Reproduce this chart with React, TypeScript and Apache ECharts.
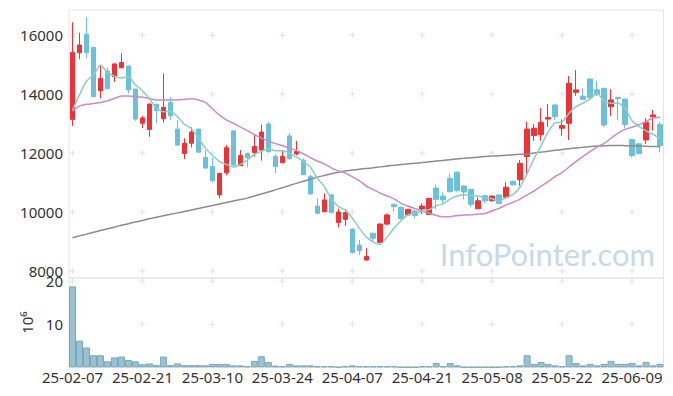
import React, { useEffect, useRef } from "react";
import * as echarts from "echarts";

const dates = [
  "25-02-07",
  "25-02-10", "25-02-11", "25-02-12", "25-02-13", "25-02-14",
  "25-02-17", "25-02-18", "25-02-19", "25-02-20", "25-02-21",
  "25-02-24", "25-02-25", "25-02-26", "25-02-27", "25-02-28",
  "25-03-04", "25-03-05", "25-03-06", "25-03-07",
  "25-03-10", "25-03-11", "25-03-12", "25-03-13", "25-03-14",
  "25-03-17", "25-03-18", "25-03-19", "25-03-20", "25-03-21",
  "25-03-24", "25-03-25", "25-03-26", "25-03-27", "25-03-28",
  "25-03-31", "25-04-01", "25-04-02", "25-04-03", "25-04-04",
  "25-04-07", "25-04-08", "25-04-09", "25-04-10", "25-04-11",
  "25-04-14", "25-04-15", "25-04-16", "25-04-17", "25-04-18",
  "25-04-21", "25-04-22", "25-04-23", "25-04-24", "25-04-25",
  "25-04-28", "25-04-29", "25-04-30", "25-05-02", "25-05-07",
  "25-05-08", "25-05-09",
  "25-05-12", "25-05-13", "25-05-14", "25-05-15", "25-05-16",
  "25-05-19", "25-05-20", "25-05-21", "25-05-22", "25-05-23",
  "25-05-26", "25-05-27", "25-05-28", "25-05-29", "25-05-30",
  "25-06-02", "25-06-04", "25-06-05",
  "25-06-09", "25-06-10", "25-06-11", "25-06-12", "25-06-13",
];

const opens = [
  13140, 15400, 16030, 15580, 14110, 14780, 14590, 14890, 14950, 14170,
  13010, 12800, 13650, 13160, 13720, 12810, 11980, 12330, 12810, 11850,
  11540, 10580, 11330, 12750, 11570, 11990, 12010, 12100, 12980, 11880,
  11670, 12580, 11970, 11760, 11200, 10200, 10010, 10580, 9640, 9750,
  9420, 8880, 8370, 9280, 8970, 9590, 10260, 10160, 9900, 10030,
  10100, 9920, 10810, 10540, 11140, 11350, 10880, 10770, 10110, 10550,
  10380, 10580, 10500, 11040, 11090, 11880, 12590, 12620, 13150, 13630,
  12840, 13010, 14060, 13930, 14510, 14140, 14190, 13570, 13890, 13830,
  12460, 12310, 12440, 13230, 12970,
];
const closes = [
  15410, 15660, 15400, 13910, 14530, 14180, 15020, 15070, 14140, 13150,
  13190, 13660, 13440, 13550, 13260, 12270, 12330, 12710, 12030, 11490,
  11060, 11310, 12180, 11590, 11910, 11850, 12220, 12710, 12050, 11540,
  11880, 11810, 12050, 11270, 10610, 9960, 10410, 9980, 10000, 9980,
  8620, 8690, 8490, 9110, 9590, 9900, 10180, 9770, 10090, 9880,
  10200, 10460, 10430, 10410, 10690, 10720, 10680, 10260, 10380, 10380,
  10540, 10290, 10840, 10920, 11650, 12810, 12840, 13040, 13200, 13230,
  12930, 14360, 14140, 13820, 13880, 13990, 12950, 13800, 13850, 12970,
  11910, 11980, 13040, 13290, 12250,
];
const lows = [
  12920, 15180, 15210, 13890, 13850, 14160, 14410, 14870, 14020, 13090,
  12840, 12550, 13010, 13030, 13120, 12250, 11790, 12190, 12010, 11460,
  11000, 10460, 11240, 11570, 11560, 11510, 11880, 11740, 12010, 11310,
  11650, 11760, 11920, 11240, 10590, 9930, 9990, 9950, 9480, 9530,
  8600, 8540, 8350, 8970, 8940, 9560, 10010, 9750, 9890, 9790,
  9930, 9900, 10090, 10290, 10660, 10690, 10430, 10160, 10100, 10290,
  10350, 10270, 10460, 10890, 10890, 11260, 12410, 12410, 12890, 13120,
  12580, 12440, 13940, 13800, 13850, 13930, 12870, 13260, 13120, 12840,
  11850, 11960, 12310, 12760, 12020,
];
const highs = [
  16430, 16080, 16600, 15600, 14950, 14900, 15040, 15380, 14950, 14170,
  13260, 13680, 13680, 14700, 13890, 13120, 12500, 12870, 12830, 12100,
  11850, 11330, 12270, 12760, 12100, 12010, 12640, 12970, 13050, 11970,
  12080, 12670, 12410, 11820, 11260, 10460, 10630, 10600, 10110, 10100,
  9450, 9050, 8770, 9300, 9620, 9950, 10280, 10180, 10100, 10070,
  10290, 10480, 10920, 10660, 11290, 11370, 10900, 10780, 10500, 10580,
  10560, 10600, 11010, 11060, 11760, 13060, 12980, 13520, 13660, 13650,
  13140, 14610, 14810, 14190, 14530, 14450, 14210, 14160, 13900, 13840,
  12480, 12330, 13180, 13460, 13060,
];

// volume, millions of shares
const volumes = [
  18.8, 6.2, 4.6, 2.8, 2.8, 1.4, 2.3, 2.5, 1.7, 1.4,
  0.7, 0.9, 0.5, 2.5, 0.5, 0.9, 0.5, 0.5, 0.5, 0.45,
  0.8, 0.8, 0.8, 0.45, 0.45, 0.25, 1.5, 2.55, 1.25, 0.4,
  0.25, 0.8, 0.45, 0.45, 0.45, 0.25, 0.25, 0.25, 0.05, 0.25,
  0.45, 0.25, 0.25, 0.25, 0.25, 0.25, 0.25, 0.05, 0.05, 0.05,
  0.25, 0.25, 1.0, 0.25, 1.0, 0.45, 0.05, 0.05, 0.05, 0.05,
  0.05, 0.05, 0.25, 0.25, 0.45, 2.8, 0.8, 1.25, 0.8, 0.45,
  0.25, 2.8, 1.0, 0.45, 0.8, 0.45, 0.8, 1.5, 0.8, 0.8,
  1.0, 0.45, 1.25, 0.45, 0.8,
];

const ma5 = [
  13460, 13970, 14440, 14650, 14982, 14736, 14608, 14542, 14588, 14312,
  14114, 13842, 13516, 13398, 13420, 13236, 12970, 12824, 12520, 12166,
  11924, 11720, 11614, 11526, 11610, 11768, 11950, 12056, 12148, 12074,
  12080, 11998, 11866, 11710, 11524, 11140, 10860, 10446, 10192, 10066,
  9798, 9454, 9156, 8978, 8900, 9156, 9454, 9710, 9906, 9964,
  10024, 10080, 10212, 10276, 10438, 10542, 10586, 10552, 10546, 10484,
  10448, 10370, 10486, 10594, 10848, 11302, 11812, 12252, 12708, 13024,
  13048, 13352, 13572, 13696, 13826, 14038, 13756, 13688, 13694, 13512,
  13096, 12902, 12748, 12636, 12492,
];
const ma20 = [
  13420, 13590, 13650, 13680, 13710, 13770, 13850, 13930, 13930, 13910,
  13890, 13850, 13800, 13800, 13800, 13800, 13820, 13840, 13800, 13720,
  13502, 13285, 13124, 13008, 12877, 12761, 12621, 12503, 12398, 12318,
  12252, 12160, 12090, 11976, 11844, 11728, 11632, 11496, 11394, 11319,
  11197, 11066, 10881, 10757, 10641, 10544, 10442, 10295, 10197, 10114,
  10030, 9962, 9881, 9838, 9842, 9880, 9894, 9908, 9927, 9947,
  10043, 10123, 10240, 10331, 10434, 10579, 10712, 10876, 11031, 11199,
  11335, 11530, 11716, 11886, 12046, 12209, 12323, 12500, 12673, 12803,
  12871, 12956, 13066, 13184, 13214,
];
const ma120 = [
  9130, 9190, 9250, 9310, 9370, 9430, 9490, 9550, 9605, 9660,
  9715, 9770, 9820, 9870, 9920, 9970, 10020, 10070, 10120, 10170,
  10220, 10270, 10320, 10370, 10420, 10470, 10540, 10610, 10680, 10750,
  10820, 10900, 10970, 11040, 11110, 11180, 11240, 11300, 11350, 11390,
  11420, 11450, 11475, 11500, 11530, 11560, 11585, 11610, 11635, 11655,
  11675, 11700, 11725, 11750, 11775, 11800, 11820, 11840, 11860, 11880,
  11895, 11910, 11925, 11940, 11955, 11970, 12000, 12030, 12060, 12090,
  12120, 12145, 12170, 12195, 12220, 12240, 12250, 12255, 12255, 12250,
  12245, 12240, 12230, 12220, 12215,
];

const priceTicks = [8000, 10000, 12000, 14000, 16000];
const volumeTicks = [10, 20];
const labelStep = 10;

const FONT = "'Noto Sans', 'DejaVu Sans', sans-serif";
const UP = "#ec3338";
const DOWN = "#6cc0d8";
const PLUS = "path://M2,0h1v2h2v1h-2v2h-1v-2h-2v-1h2z";

export default function App() {
  const ref = useRef<HTMLDivElement>(null);

  useEffect(() => {
    if (!ref.current) return;
    const chart = echarts.init(ref.current, undefined, { renderer: "svg" });

    const labelIdx = dates.map((_, i) => i).filter((i) => i % labelStep === 0);
    const pricePlus: number[][] = [];
    labelIdx.forEach((i) => priceTicks.forEach((v) => pricePlus.push([i, v])));
    const volPlus: number[][] = [];
    labelIdx.forEach((i) => volumeTicks.forEach((v) => volPlus.push([i, v])));

    const candles = dates.map((_, i) => [opens[i], closes[i], lows[i], highs[i]]);

    const axisText = { color: "#333", fontSize: 15, fontFamily: FONT };

    const option: any = {
      animation: false,
      backgroundColor: "#fff",
      grid: [
        { left: 69, right: 9.5, top: 10, height: 268, show: true, borderColor: "#e4e4e4", borderWidth: 1 },
        { left: 69, right: 9.5, top: 278, height: 89.3, show: true, borderColor: "#e4e4e4", borderWidth: 1 },
      ],
      xAxis: [
        {
          type: "category", gridIndex: 0, data: dates, boundaryGap: true,
          axisLine: { show: false }, axisTick: { show: false },
          axisLabel: { show: false }, splitLine: { show: false },
        },
        {
          type: "category", gridIndex: 1, data: dates, boundaryGap: true,
          axisLine: { show: false }, axisTick: { show: false },
          axisLabel: { ...axisText, interval: labelStep - 1, margin: 2 },
          splitLine: { show: false },
        },
      ],
      yAxis: [
        {
          type: "value", gridIndex: 0, min: 7762, max: 16849,
          axisLine: { show: false }, axisTick: { show: false }, splitLine: { show: false },
          axisLabel: {
            ...axisText, margin: 6, showMinLabel: false, showMaxLabel: false,
            formatter: (v: number) => (v % 2000 === 0 ? String(v) : ""),
          },
        },
        {
          type: "value", gridIndex: 1, min: 0, max: 20.75, interval: 10,
          axisLine: { show: false }, axisTick: { show: false }, splitLine: { show: false },
          name: "10\u2076", nameLocation: "middle", nameRotate: 90, nameGap: 31,
          nameTextStyle: { color: "#333", fontSize: 15, fontFamily: FONT },
          axisLabel: {
            ...axisText, margin: 6, showMinLabel: false, showMaxLabel: false,
            formatter: (v: number) => (v % 10 === 0 ? String(v) : ""),
          },
        },
      ],
      graphic: [
        {
          type: "text", x: 655, y: 254, z: 0,
          style: {
            text: "InfoPointer.com", fill: "#c6d9e5",
            font: "31px Lato, 'Open Sans', sans-serif",
            align: "right", verticalAlign: "middle",
            textAlign: "right", textVerticalAlign: "middle",
          },
        },
      ],
      series: [
        {
          type: "scatter", xAxisIndex: 0, yAxisIndex: 0, data: pricePlus, silent: true,
          symbol: PLUS, symbolSize: 6, itemStyle: { color: "#dcdcdc" }, z: 1,
        },
        {
          type: "scatter", xAxisIndex: 1, yAxisIndex: 1, data: volPlus, silent: true,
          symbol: PLUS, symbolSize: 6, itemStyle: { color: "#dcdcdc" }, z: 1,
        },
        {
          type: "candlestick", xAxisIndex: 0, yAxisIndex: 0, data: candles, barWidth: 5,
          itemStyle: { color: UP, color0: DOWN, borderColor: UP, borderColor0: DOWN, borderWidth: 1 },
          z: 3,
        },
        {
          type: "line", xAxisIndex: 0, yAxisIndex: 0, data: ma120, showSymbol: false, smooth: 0.2,
          lineStyle: { color: "#8c8c8c", width: 1.5 }, z: 4, silent: true,
        },
        {
          type: "line", xAxisIndex: 0, yAxisIndex: 0, data: ma20, showSymbol: false, smooth: 0.2,
          lineStyle: { color: "#c98cc5", width: 1.5 }, z: 4, silent: true,
        },
        {
          type: "line", xAxisIndex: 0, yAxisIndex: 0, data: ma5, showSymbol: false, smooth: 0.2,
          lineStyle: { color: "#8ccdc4", width: 1.5 }, z: 4, silent: true,
        },
        {
          type: "bar", xAxisIndex: 1, yAxisIndex: 1, data: volumes, barCategoryGap: "0%",
          itemStyle: { color: "#9bc0cf", borderColor: "#78a8bc", borderWidth: 1 }, z: 3,
        },
      ],
    };

    chart.setOption(option);
    return () => chart.dispose();
  }, []);

  return (
    <div
      ref={ref}
      style={{ position: "fixed", left: 0, top: 0, width: 673, height: 396, background: "#fff" }}
    />
  );
}
